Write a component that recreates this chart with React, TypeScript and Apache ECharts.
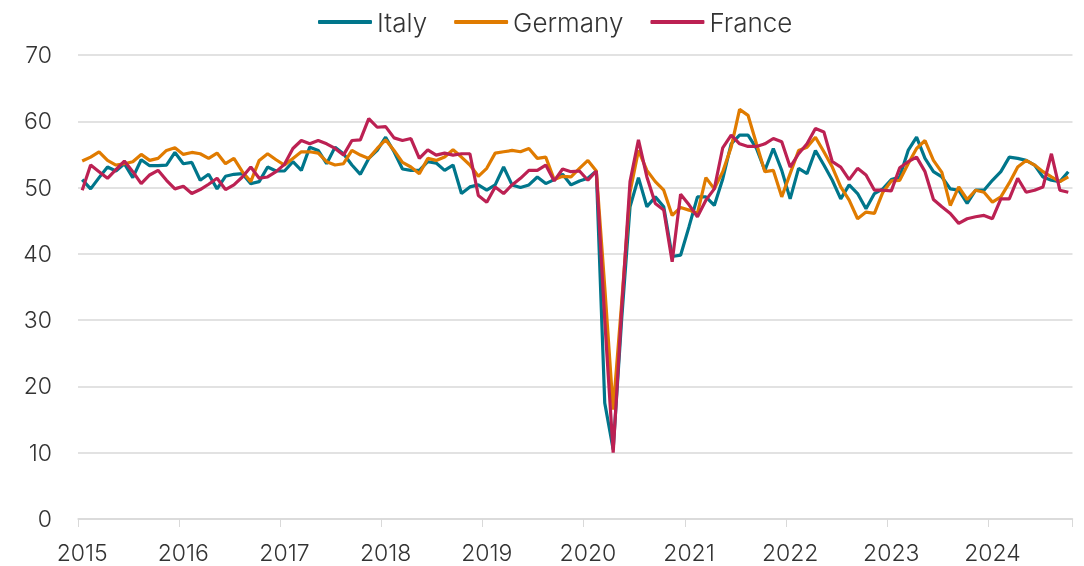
import React, { useEffect, useRef } from "react";
import * as echarts from "echarts";

const startYear = 2015;
const monthCount = 118; // Jan 2015 .. Oct 2024

const italy = [
  51.2, 49.8, 51.5, 53.1, 52.5, 53.6, 51.5, 54.2, 53.3, 53.3,
  53.4, 55.3, 53.6, 53.8, 51.1, 52.0, 49.8, 51.7, 52.0, 52.1,
  50.6, 50.9, 53.1, 52.5, 52.5, 53.9, 52.6, 56.1, 55.6, 53.6,
  56.1, 55.1, 53.4, 52.0, 54.4, 55.6, 57.6, 55.4, 52.8, 52.6,
  52.6, 53.9, 53.7, 52.6, 53.4, 49.1, 50.1, 50.4, 49.6, 50.4,
  53.1, 50.4, 50.0, 50.4, 51.6, 50.6, 51.2, 52.0, 50.4, 51.0,
  51.4, 52.5, 17.5, 10.5, 30.0, 47.1, 51.5, 47.1, 48.6, 47.1,
  39.6, 39.8, 44.1, 48.6, 48.6, 47.3, 51.3, 56.6, 57.9, 57.9,
  55.9, 52.6, 55.9, 52.6, 48.3, 52.9, 52.1, 55.6, 53.4, 51.1,
  48.3, 50.4, 49.1, 46.8, 49.1, 49.8, 51.2, 51.6, 55.6, 57.6,
  54.4, 52.4, 51.6, 49.8, 49.6, 47.6, 49.6, 49.6, 51.1, 52.4,
  54.6, 54.4, 54.1, 53.4, 51.6, 51.1, 50.9, 52.4,
];

const germany = [
  54.0, 54.6, 55.4, 54.1, 53.4, 53.6, 53.9, 55.0, 54.1, 54.4,
  55.6, 56.0, 55.0, 55.3, 55.1, 54.4, 55.2, 53.6, 54.4, 52.4,
  50.9, 54.1, 55.1, 54.2, 53.4, 54.4, 55.4, 55.4, 55.2, 53.9,
  53.4, 53.6, 55.6, 54.9, 54.4, 55.9, 57.2, 55.6, 53.8, 53.1,
  52.1, 54.4, 54.1, 54.6, 55.7, 54.6, 53.4, 51.7, 52.9, 55.2,
  55.4, 55.6, 55.4, 55.9, 54.4, 54.6, 51.2, 51.7, 51.6, 52.9,
  54.1, 52.5, 35.0, 16.5, 32.5, 49.3, 55.6, 52.6, 50.9, 49.6,
  45.8, 47.0, 46.6, 46.1, 51.5, 49.8, 52.4, 56.1, 61.8, 60.9,
  56.6, 52.4, 52.6, 48.6, 52.1, 55.6, 56.1, 57.6, 55.4, 53.1,
  50.1, 48.1, 45.3, 46.3, 46.1, 49.3, 51.0, 51.1, 53.6, 55.9,
  57.1, 54.1, 52.3, 47.3, 50.1, 48.2, 49.6, 49.3, 47.8, 48.6,
  50.7, 53.1, 54.1, 53.4, 52.4, 51.6, 50.9, 51.6,
];

const france = [
  49.6, 53.4, 52.4, 51.4, 52.7, 54.0, 52.4, 50.6, 51.9, 52.6,
  51.1, 49.8, 50.2, 49.1, 49.7, 50.5, 51.4, 49.7, 50.4, 51.6,
  53.1, 51.4, 51.6, 52.4, 53.5, 55.9, 57.1, 56.6, 57.1, 56.6,
  55.9, 54.9, 57.1, 57.2, 60.4, 59.1, 59.2, 57.5, 57.1, 57.4,
  54.4, 55.7, 54.9, 55.2, 54.9, 55.1, 55.1, 48.8, 47.8, 50.1,
  49.1, 50.4, 51.4, 52.6, 52.6, 53.4, 51.0, 52.8, 52.4, 52.5,
  51.1, 52.5, 30.0, 10.0, 31.5, 50.9, 57.2, 51.6, 47.6, 46.6,
  38.8, 49.0, 47.4, 45.6, 48.1, 49.8, 56.0, 57.9, 56.6, 56.2,
  56.2, 56.6, 57.4, 56.9, 53.1, 55.1, 56.6, 58.9, 58.4, 53.9,
  53.1, 51.2, 52.9, 51.9, 49.6, 49.6, 49.5, 53.0, 53.9, 54.6,
  52.4, 48.2, 47.1, 46.1, 44.6, 45.3, 45.6, 45.8, 45.3, 48.3,
  48.3, 51.4, 49.3, 49.6, 50.1, 55.1, 49.6, 49.3,
];

const months = Array.from({ length: monthCount }, (_, i) => {
  const y = startYear + Math.floor(i / 12);
  const m = (i % 12) + 1;
  return `${y}-${m < 10 ? "0" + m : m}`;
});

const seriesNames = ["Italy", "Germany", "France"];
const seriesColors = ["#00768b", "#e07b00", "#bc2153"];
const seriesData = [italy, germany, france];

const FONT = "Inter, Roboto, sans-serif";

export default function App() {
  const ref = useRef<HTMLDivElement>(null);
  useEffect(() => {
    if (!ref.current) return;
    const chart = echarts.init(ref.current, null, { renderer: "svg" });
    chart.setOption({
      animation: false,
      textStyle: { fontFamily: FONT },
      legend: {
        top: 4,
        left: 313,
        icon: "roundRect",
        itemWidth: 54,
        itemHeight: 4,
        itemGap: 27,
        textStyle: { fontSize: 26, fontWeight: 300, color: "#333", fontFamily: FONT },
        data: seriesNames,
      },
      grid: { left: 78, right: 11.5, top: 55, bottom: 47, containLabel: false },
      xAxis: {
        type: "category",
        data: months,
        boundaryGap: true,
        axisLine: { show: true, lineStyle: { color: "#d9d9d9", width: 1.5 } },
        axisTick: {
          show: true,
          length: 8,
          interval: (index: number) => index % 12 === 0,
          lineStyle: { color: "#d9d9d9", width: 1 },
        },
        axisLabel: {
          interval: (index: number) => index % 12 === 0,
          formatter: (v: string) => v.slice(0, 4),
          fontSize: 23,
          fontWeight: 300,
          color: "#333",
          margin: 22,
          fontFamily: FONT,
        },
        splitLine: { show: false },
      },
      yAxis: {
        type: "value",
        min: 0,
        max: 70,
        interval: 10,
        axisLine: { show: false },
        axisTick: { show: false },
        axisLabel: { fontSize: 23, fontWeight: 300, color: "#333", margin: 26, fontFamily: FONT },
        splitLine: { lineStyle: { color: "#d9d9d9", width: 1.5 } },
      },
      series: seriesNames.map((name, k) => ({
        name,
        type: "line",
        data: seriesData[k],
        showSymbol: false,
        symbol: "none",
        color: seriesColors[k],
        lineStyle: { width: 3.2, color: seriesColors[k] },
      })),
    });
    return () => chart.dispose();
  }, []);
  return (
    <div
      ref={ref}
      style={{ position: "fixed", left: 0, top: 0, width: 1084, height: 566 }}
    />
  );
}
